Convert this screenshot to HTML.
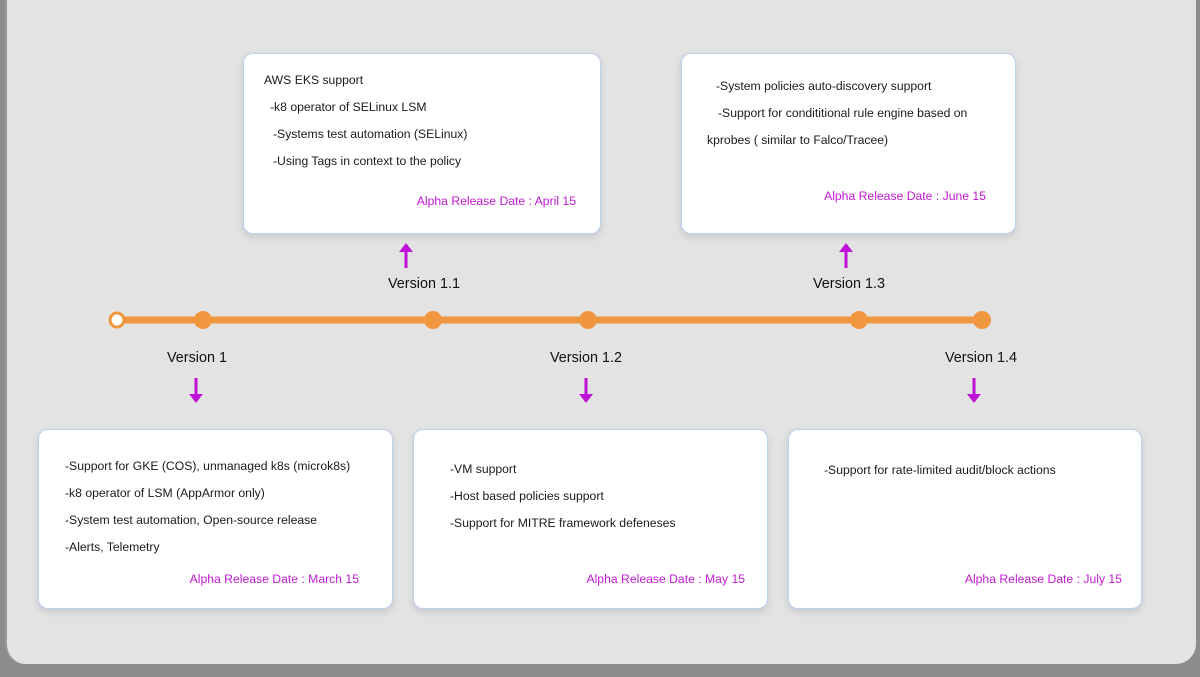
<!DOCTYPE html>
<html><head><meta charset="utf-8"><style>
body{margin:0;width:1200px;height:677px;background:#8c8c8c;position:relative;overflow:hidden;font-family:"Liberation Sans",sans-serif;}
#panel{position:absolute;left:5px;top:-20px;width:1189px;height:684px;background:#e3e3e3;border-radius:0 0 20px 20px;border-left:2px solid #9a9a9a;}
.box{position:absolute;background:#fff;border:1.5px solid #bcd0f2;border-radius:10px;box-shadow:0 3px 8px rgba(0,0,0,0.12);box-sizing:border-box;}
.t{position:absolute;font-size:12.2px;color:#1a1a1a;white-space:nowrap;line-height:16px;}
.d{position:absolute;font-size:12.2px;color:#c21ad4;white-space:nowrap;line-height:16px;}
.v{position:absolute;font-size:14.4px;color:#111;white-space:nowrap;line-height:18px;}
</style></head><body>
<div id="panel"></div>
<div class="box" style="left:243px;top:53px;width:358px;height:181px"></div>
<div class="box" style="left:681px;top:53px;width:335px;height:181px"></div>
<div class="box" style="left:38px;top:429px;width:355px;height:180px"></div>
<div class="box" style="left:413px;top:429px;width:355px;height:180px"></div>
<div class="box" style="left:788px;top:429px;width:354px;height:180px"></div>

<div class="t" style="left:264px;top:72px">AWS EKS support</div>
<div class="t" style="left:270px;top:99px">-k8 operator of SELinux LSM</div>
<div class="t" style="left:273px;top:126px">-Systems test automation (SELinux)</div>
<div class="t" style="left:273px;top:153px">-Using Tags in context to the policy</div>
<div class="d" style="right:624px;top:193px">Alpha Release Date : April 15</div>

<div class="t" style="left:716px;top:78px">-System policies auto-discovery support</div>
<div class="t" style="left:718px;top:105px">-Support for condititional rule engine based on</div>
<div class="t" style="left:707px;top:132px">kprobes ( similar to Falco/Tracee)</div>
<div class="d" style="right:214px;top:188px">Alpha Release Date : June 15</div>

<div class="t" style="left:65px;top:458px">-Support for GKE (COS), unmanaged k8s (microk8s)</div>
<div class="t" style="left:65px;top:485px">-k8 operator of LSM (AppArmor only)</div>
<div class="t" style="left:65px;top:512px">-System test automation, Open-source release</div>
<div class="t" style="left:65px;top:539px">-Alerts, Telemetry</div>
<div class="d" style="right:841px;top:571px">Alpha Release Date : March 15</div>

<div class="t" style="left:450px;top:461px">-VM support</div>
<div class="t" style="left:450px;top:488px">-Host based policies support</div>
<div class="t" style="left:450px;top:515px">-Support for MITRE framework defeneses</div>
<div class="d" style="right:455px;top:571px">Alpha Release Date : May 15</div>

<div class="t" style="left:824px;top:462px">-Support for rate-limited audit/block actions</div>
<div class="d" style="right:78px;top:571px">Alpha Release Date : July 15</div>

<div class="v" style="left:388px;top:275px">Version 1.1</div>
<div class="v" style="left:813px;top:275px">Version 1.3</div>
<div class="v" style="left:167px;top:349px">Version 1</div>
<div class="v" style="left:550px;top:349px">Version 1.2</div>
<div class="v" style="left:945px;top:349px">Version 1.4</div>

<svg width="1200" height="677" style="position:absolute;left:0;top:0">
<line x1="117" y1="320" x2="982" y2="320" stroke="#f0963f" stroke-width="7"/>
<circle cx="117" cy="320" r="7" fill="#fff" stroke="#f0963f" stroke-width="3"/>
<g fill="#f0963f">
<circle cx="203" cy="320" r="9"/><circle cx="433" cy="320" r="9"/><circle cx="588" cy="320" r="9"/><circle cx="859" cy="320" r="9"/><circle cx="982" cy="320" r="9"/>
</g>
<g stroke="#c012d6" stroke-width="3" fill="#c012d6">
<line x1="406" y1="268" x2="406" y2="250"/><polygon points="399,252 413,252 406,243" stroke="none"/>
<line x1="846" y1="268" x2="846" y2="250"/><polygon points="839,252 853,252 846,243" stroke="none"/>
<line x1="196" y1="378" x2="196" y2="396"/><polygon points="189,394 203,394 196,403" stroke="none"/>
<line x1="586" y1="378" x2="586" y2="396"/><polygon points="579,394 593,394 586,403" stroke="none"/>
<line x1="974" y1="378" x2="974" y2="396"/><polygon points="967,394 981,394 974,403" stroke="none"/>
</g>
</svg>
</body></html>
